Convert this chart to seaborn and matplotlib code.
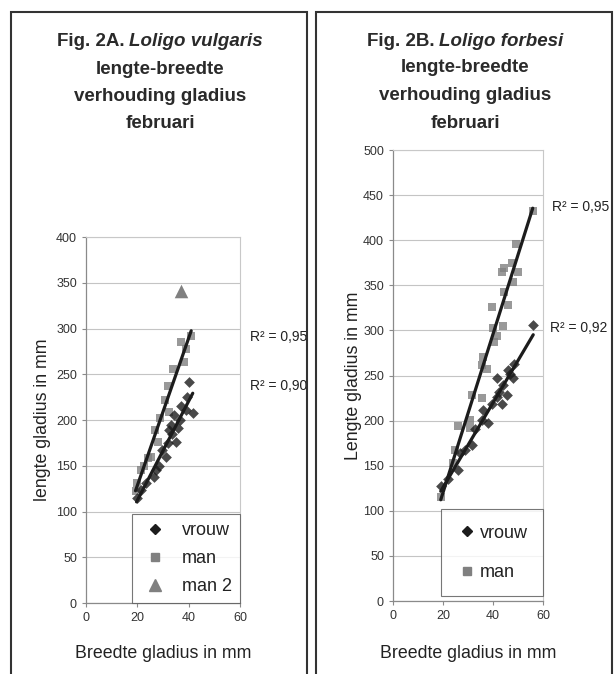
import numpy as np
import pandas as pd
import matplotlib
matplotlib.use("Agg")
import matplotlib.pyplot as plt
import seaborn as sns
from matplotlib.patches import Rectangle
from matplotlib.lines import Line2D

# Fig. 2A  Loligo vulgaris (breedte, lengte in mm)
vul_vrouw_x = [19.7, 21.3, 23.2, 26.4, 27.2, 28.4, 29.8, 31.0, 31.8, 32.3, 33.0, 33.6,
               34.3, 35.0, 35.8, 36.5, 37.0, 39.0, 39.4, 40.3, 41.6]
vul_vrouw_y = [115, 124, 131, 138, 145, 150, 167, 160, 175, 189, 195, 185,
               205, 176, 191, 200, 215, 211, 225, 242, 208]
vul_man_x = [19.3, 20.0, 21.3, 22.5, 24.0, 25.2, 27.0, 28.0, 29.0, 30.7, 32.3, 32.0,
             34.0, 38.0, 39.0, 37.2, 41.0]
vul_man_y = [122, 131, 145, 150, 158, 160, 189, 176, 202, 222, 209, 237,
             256, 263, 278, 285, 292]
vul_man2_x = [37.0]
vul_man2_y = [341]

# Fig. 2B  Loligo forbesi
for_vrouw_x = [19.1, 22.0, 26.1, 26.8, 29.0, 31.5, 32.8, 35.5, 38.1, 36.1, 39.5, 41.5,
               42.5, 43.5, 44.0, 45.5, 41.5, 47.9, 46.1, 46.8, 48.4, 56.1]
for_vrouw_y = [127, 135, 145, 164, 168, 173, 191, 201, 197, 212, 219, 226,
               232, 219, 240, 228, 247, 247, 256, 252, 263, 306]
for_man_x = [19.1, 24.1, 24.8, 26.1, 30.8, 30.8, 31.5, 35.5, 35.5, 36.1, 37.7, 40.4,
             41.5, 40.1, 44.1, 39.5, 46.1, 44.4, 48.1, 44.4, 43.7, 47.5, 50.1, 49.2, 55.9]
for_man_y = [115, 153, 167, 194, 201, 192, 228, 225, 262, 271, 257, 287,
             294, 303, 305, 326, 328, 343, 354, 369, 365, 375, 365, 396, 432]

vul_r2 = ["R² = 0,95", "R² = 0,90"]
for_r2 = ["R² = 0,95", "R² = 0,92"]

BLACK = "#1c1c1c"
GREY = "#808080"

sns.set_theme(style="white")
plt.rcParams["font.family"] = ["Liberation Sans", "DejaVu Sans"]

fig = plt.figure(figsize=(6.15, 6.74), dpi=100)
ax1 = fig.add_axes([0.1398, 0.1053, 0.2504, 0.543])
ax2 = fig.add_axes([0.639, 0.1083, 0.2439, 0.669])


def draw_series(ax, x, y, marker, color, size):
    d = pd.DataFrame({"x": x, "y": y})
    sns.regplot(data=d, x="x", y="y", ax=ax, ci=None, truncate=True,
                marker=marker, color=color,
                scatter_kws={"s": size, "color": color, "linewidths": 0, "zorder": 3},
                line_kws={"color": BLACK, "lw": 2.3, "zorder": 5})


draw_series(ax1, vul_man_x, vul_man_y, "s", GREY, 34)
draw_series(ax1, vul_vrouw_x, vul_vrouw_y, "D", BLACK, 30)
sns.scatterplot(x=vul_man2_x, y=vul_man2_y, ax=ax1, marker="^", color=GREY, s=95,
                linewidth=0, zorder=3)

draw_series(ax2, for_man_x, for_man_y, "s", GREY, 34)
draw_series(ax2, for_vrouw_x, for_vrouw_y, "D", BLACK, 30)


def style(ax, ymax):
    ax.set_xlim(0, 60)
    ax.set_ylim(0, ymax)
    ax.set_xticks([0, 20, 40, 60])
    ax.set_yticks(np.arange(0, ymax + 1, 50))
    ax.grid(axis="y", color="#c4c4c4", lw=0.8)
    ax.set_axisbelow(True)
    for s in ["top", "right"]:
        ax.spines[s].set_color("#c8c8c8")
        ax.spines[s].set_linewidth(0.8)
    for s in ["left", "bottom"]:
        ax.spines[s].set_color("#8a8a8a")
        ax.spines[s].set_linewidth(0.9)
    ax.tick_params(axis="both", labelsize=9, colors="#333333", length=3,
                   width=0.8, direction="out", left=True, bottom=True)
    ax.tick_params(axis="both", color="#8a8a8a")
    ax.set_xlabel("Breedte gladius in mm", fontsize=12.8, color="#222222")


style(ax1, 400)
style(ax2, 500)
ax1.set_ylabel("lengte gladius in mm", fontsize=12.8, color="#222222")
ax2.set_ylabel("Lengte gladius in mm", fontsize=12.8, color="#222222")
ax1.yaxis.set_label_coords(-0.23, 0.5)
ax2.yaxis.set_label_coords(-0.205, 0.5)
ax1.xaxis.set_label_coords(0.5, -0.115)
ax2.xaxis.set_label_coords(0.5, -0.097)

# R² labels
ax1.text(63.8, 291, vul_r2[0], fontsize=10, color="#222222", va="center", clip_on=False)
ax1.text(63.8, 237, vul_r2[1], fontsize=10, color="#222222", va="center", clip_on=False)
ax2.text(63.6, 437, for_r2[0], fontsize=10, color="#222222", va="center", clip_on=False)
ax2.text(62.8, 303, for_r2[1], fontsize=10, color="#222222", va="center", clip_on=False)

# legends
h_vrouw = Line2D([], [], ls="none", marker="D", color=BLACK, markersize=5.5)
h_man = Line2D([], [], ls="none", marker="s", color=GREY, markersize=5.5)
h_man2 = Line2D([], [], ls="none", marker="^", color=GREY, markersize=9)
leg1 = ax1.legend([h_vrouw, h_man, h_man2], ["vrouw", "man", "man 2"],
                  loc="lower right", bbox_to_anchor=(1.0, 0.0), borderaxespad=0,
                  fontsize=13, frameon=True, fancybox=False, handletextpad=0.7,
                  labelspacing=0.6, borderpad=0.45, handlelength=1.6)
leg2 = ax2.legend([h_vrouw, h_man], ["vrouw", "man"],
                  loc="lower right", bbox_to_anchor=(1.0, 0.01), borderaxespad=0,
                  fontsize=13, frameon=True, fancybox=False, handletextpad=0.1,
                  labelspacing=1.25, borderpad=0.85, handlelength=1.2)
for leg in (leg1, leg2):
    leg.get_frame().set_edgecolor("#555555")
    leg.get_frame().set_linewidth(0.8)
    for t in leg.get_texts():
        t.set_color("#222222")

# panel frames
fig.add_artist(Rectangle((11 / 615, -0.05), 296 / 615, 1.05 - 12 / 674,
                         transform=fig.transFigure, fill=False, ec="#333333", lw=1.5))
fig.add_artist(Rectangle((316 / 615, -0.05), 296 / 615, 1.05 - 12 / 674,
                         transform=fig.transFigure, fill=False, ec="#333333", lw=1.5))

# titles
renderer = fig.canvas.get_renderer()


def title(cx, ys, fig_part, species, rest):
    kw = dict(fontsize=13.5, weight="bold", color="#2a2a2a", va="center")
    t1 = fig.text(0, ys[0], fig_part, ha="left", **kw)
    t2 = fig.text(0, ys[0], species, ha="left", style="italic", **kw)
    w1 = t1.get_window_extent(renderer).width / fig.bbox.width
    w2 = t2.get_window_extent(renderer).width / fig.bbox.width
    gap = 4 / 615
    x0 = cx - (w1 + gap + w2) / 2
    t1.set_x(x0)
    t2.set_x(x0 + w1 + gap)
    for y, line in zip(ys[1:], rest):
        fig.text(cx, y, line, ha="center", **kw)


title(160 / 615, [1 - 41.7 / 674, 1 - 69 / 674, 1 - 96.7 / 674, 1 - 124 / 674],
      "Fig. 2A.", "Loligo vulgaris", ["lengte-breedte", "verhouding gladius", "februari"])
title(465 / 615, [1 - 41.7 / 674, 1 - 68 / 674, 1 - 96 / 674, 1 - 123 / 674],
      "Fig. 2B.", "Loligo forbesi", ["lengte-breedte", "verhouding gladius", "februari"])

fig.savefig("out.png", dpi=100)
